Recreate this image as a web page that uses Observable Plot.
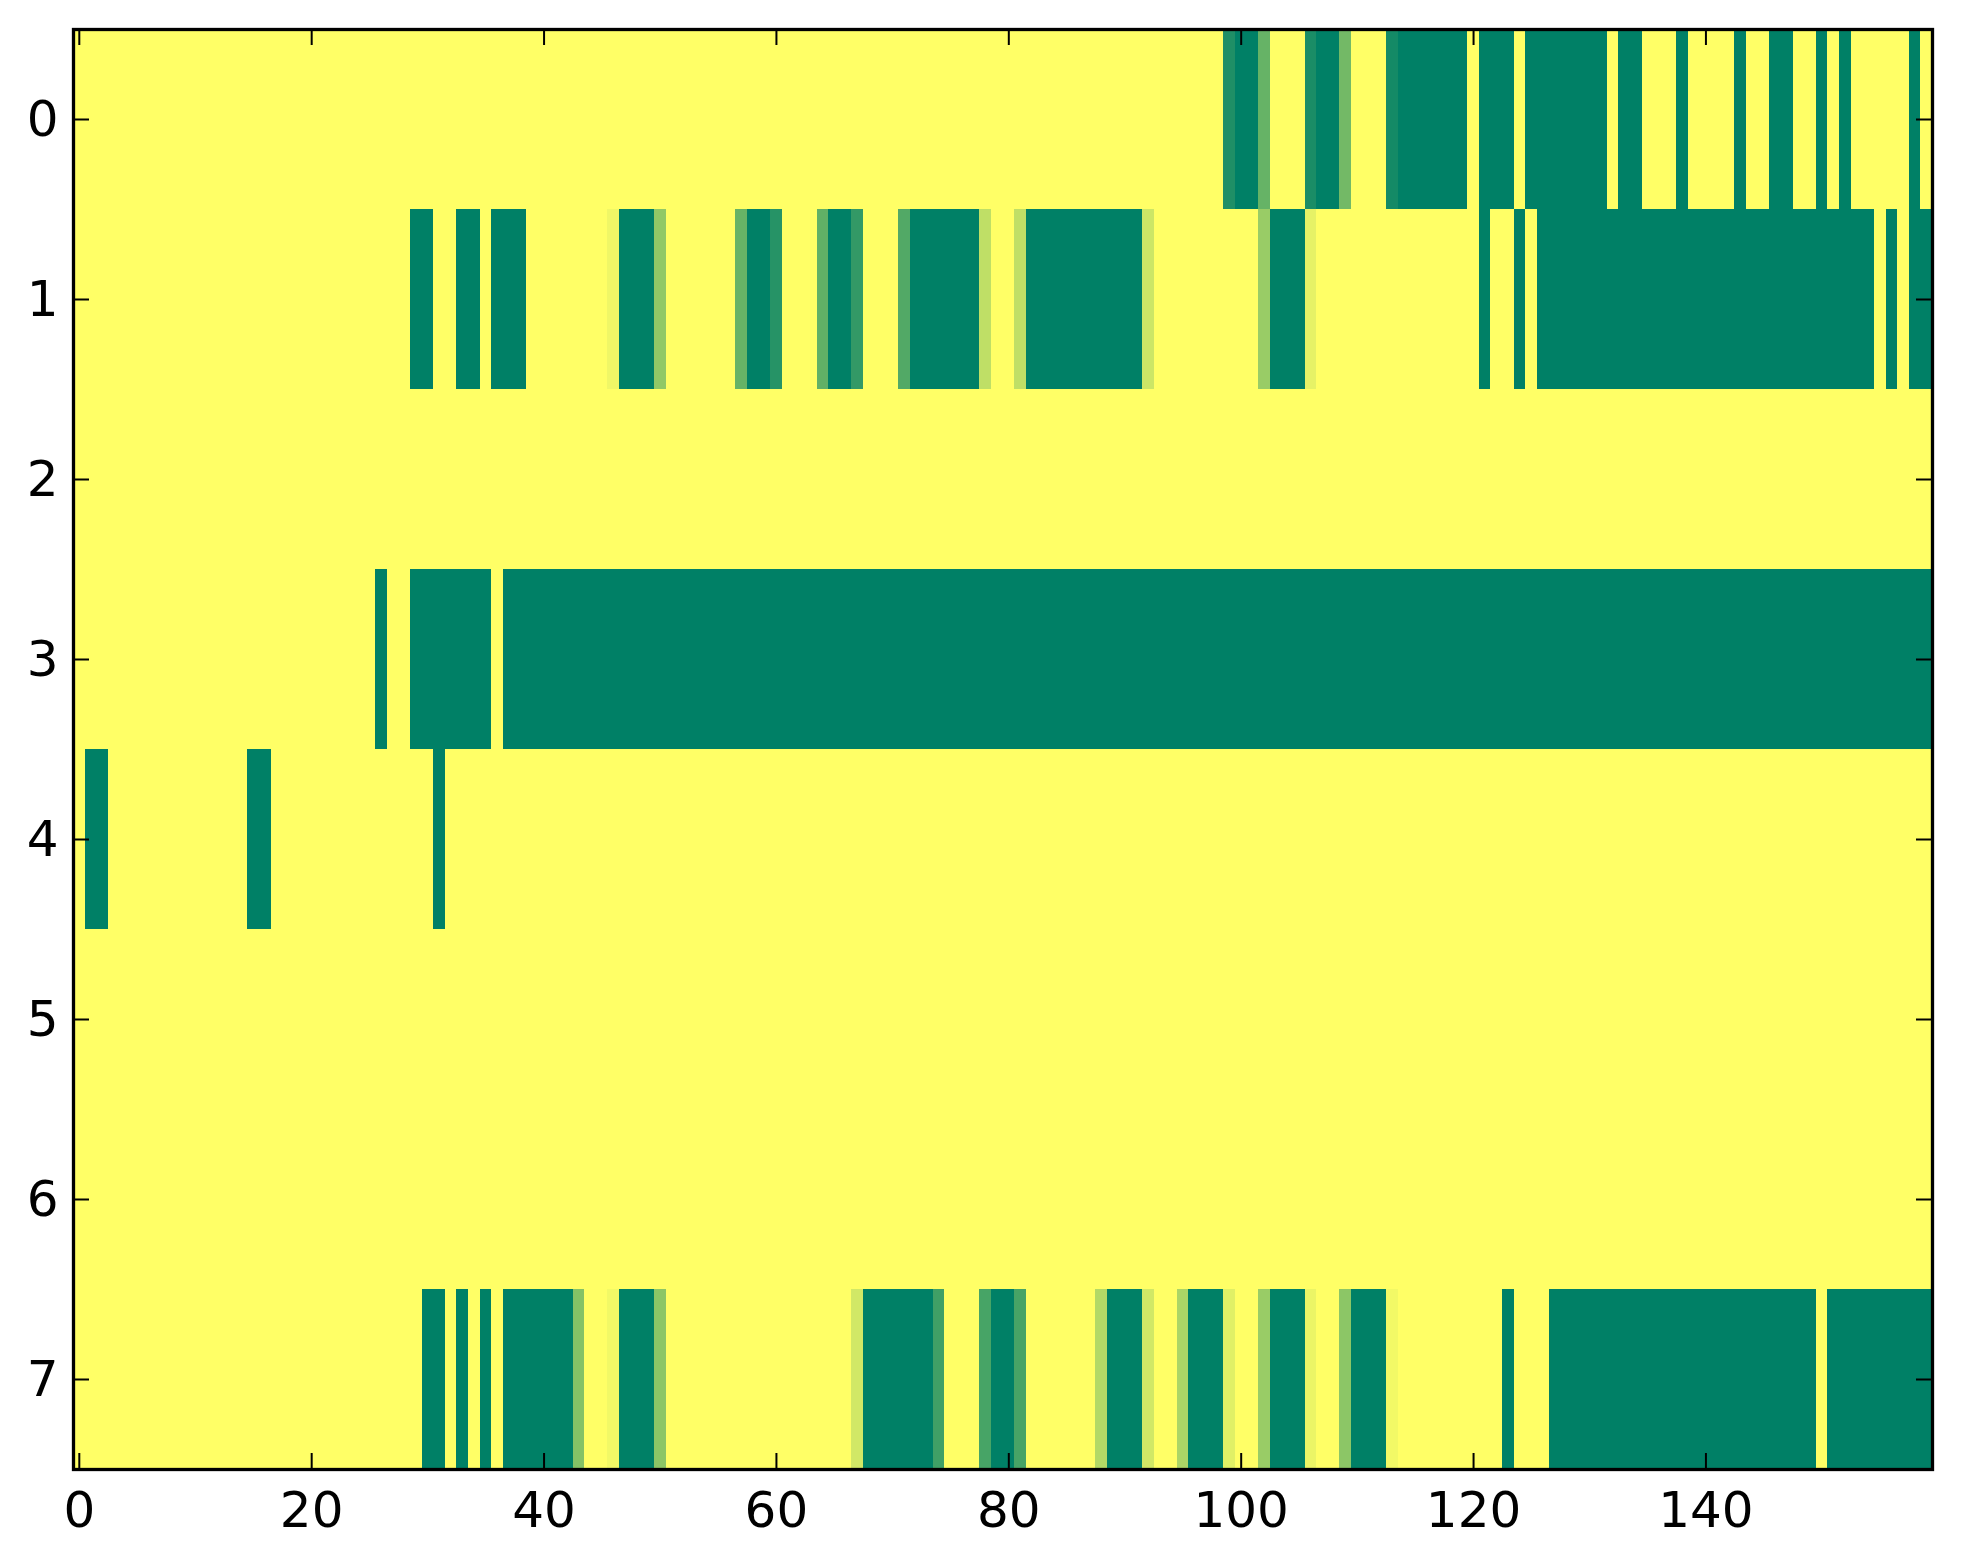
<!DOCTYPE html>
<html>
<head>
<meta charset="utf-8">
<script src="https://cdn.jsdelivr.net/npm/d3@7"></script>
<script src="https://cdn.jsdelivr.net/npm/@observablehq/plot@0.6"></script>
<style>
  html, body { margin: 0; padding: 0; background: #ffffff; }
</style>
</head>
<body>
<div id="chart"></div>
<script>
// Heatmap values, one array per row (160 columns each), colormap summer_r (0 = yellow, 1 = green)
const row0 = [
  0,0,0,0,0,0,0,0,0,0,0,0,0,0,0,0,0,0,0,0,
  0,0,0,0,0,0,0,0,0,0,0,0,0,0,0,0,0,0,0,0,
  0,0,0,0,0,0,0,0,0,0,0,0,0,0,0,0,0,0,0,0,
  0,0,0,0,0,0,0,0,0,0,0,0,0,0,0,0,0,0,0,0,
  0,0,0,0,0,0,0,0,0,0,0,0,0,0,0,0,0,0,0,0.88,
  1,1,0.6,0,0,0,0.9,1,1,0.55,0,0,0,0.92,1,1,1,1,1,1,
  0,1,1,1,0,1,1,1,1,1,1,1,0,1,1,0,0,0,1,0,
  0,0,0,1,0,0,1,1,0,0,1,0,1,0,0,0,0,0,1,0
];
const row1 = [
  0,0,0,0,0,0,0,0,0,0,0,0,0,0,0,0,0,0,0,0,
  0,0,0,0,0,0,0,0,0,1,1,0,0,1,1,0,1,1,1,0,
  0,0,0,0,0,0,0.06,1,1,1,0.43,0,0,0,0,0,0,0.6,1,1,
  0.85,0,0,0,0.62,1,1,0.8,0,0,0,0.68,1,1,1,1,1,1,0.25,0,
  0,0.25,1,1,1,1,1,1,1,1,1,1,0.2,0,0,0,0,0,0,0,
  0,0,0.4,1,1,1,0.1,0,0,0,0,0,0,0,0,0,0,0,0,0,
  0,1,0,0,1,0,1,1,1,1,1,1,1,1,1,1,1,1,1,1,
  1,1,1,1,1,1,1,1,1,1,1,1,1,1,1,0,1,0,1,1
];
const row2 = [
  0,0,0,0,0,0,0,0,0,0,0,0,0,0,0,0,0,0,0,0,
  0,0,0,0,0,0,0,0,0,0,0,0,0,0,0,0,0,0,0,0,
  0,0,0,0,0,0,0,0,0,0,0,0,0,0,0,0,0,0,0,0,
  0,0,0,0,0,0,0,0,0,0,0,0,0,0,0,0,0,0,0,0,
  0,0,0,0,0,0,0,0,0,0,0,0,0,0,0,0,0,0,0,0,
  0,0,0,0,0,0,0,0,0,0,0,0,0,0,0,0,0,0,0,0,
  0,0,0,0,0,0,0,0,0,0,0,0,0,0,0,0,0,0,0,0,
  0,0,0,0,0,0,0,0,0,0,0,0,0,0,0,0,0,0,0,0
];
const row3 = [
  0,0,0,0,0,0,0,0,0,0,0,0,0,0,0,0,0,0,0,0,
  0,0,0,0,0,0,1,0,0,1,1,1,1,1,1,1,0,1,1,1,
  1,1,1,1,1,1,1,1,1,1,1,1,1,1,1,1,1,1,1,1,
  1,1,1,1,1,1,1,1,1,1,1,1,1,1,1,1,1,1,1,1,
  1,1,1,1,1,1,1,1,1,1,1,1,1,1,1,1,1,1,1,1,
  1,1,1,1,1,1,1,1,1,1,1,1,1,1,1,1,1,1,1,1,
  1,1,1,1,1,1,1,1,1,1,1,1,1,1,1,1,1,1,1,1,
  1,1,1,1,1,1,1,1,1,1,1,1,1,1,1,1,1,1,1,1
];
const row4 = [
  0,1,1,0,0,0,0,0,0,0,0,0,0,0,0,1,1,0,0,0,
  0,0,0,0,0,0,0,0,0,0,0,1,0,0,0,0,0,0,0,0,
  0,0,0,0,0,0,0,0,0,0,0,0,0,0,0,0,0,0,0,0,
  0,0,0,0,0,0,0,0,0,0,0,0,0,0,0,0,0,0,0,0,
  0,0,0,0,0,0,0,0,0,0,0,0,0,0,0,0,0,0,0,0,
  0,0,0,0,0,0,0,0,0,0,0,0,0,0,0,0,0,0,0,0,
  0,0,0,0,0,0,0,0,0,0,0,0,0,0,0,0,0,0,0,0,
  0,0,0,0,0,0,0,0,0,0,0,0,0,0,0,0,0,0,0,0
];
const row5 = [
  0,0,0,0,0,0,0,0,0,0,0,0,0,0,0,0,0,0,0,0,
  0,0,0,0,0,0,0,0,0,0,0,0,0,0,0,0,0,0,0,0,
  0,0,0,0,0,0,0,0,0,0,0,0,0,0,0,0,0,0,0,0,
  0,0,0,0,0,0,0,0,0,0,0,0,0,0,0,0,0,0,0,0,
  0,0,0,0,0,0,0,0,0,0,0,0,0,0,0,0,0,0,0,0,
  0,0,0,0,0,0,0,0,0,0,0,0,0,0,0,0,0,0,0,0,
  0,0,0,0,0,0,0,0,0,0,0,0,0,0,0,0,0,0,0,0,
  0,0,0,0,0,0,0,0,0,0,0,0,0,0,0,0,0,0,0,0
];
const row6 = [
  0,0,0,0,0,0,0,0,0,0,0,0,0,0,0,0,0,0,0,0,
  0,0,0,0,0,0,0,0,0,0,0,0,0,0,0,0,0,0,0,0,
  0,0,0,0,0,0,0,0,0,0,0,0,0,0,0,0,0,0,0,0,
  0,0,0,0,0,0,0,0,0,0,0,0,0,0,0,0,0,0,0,0,
  0,0,0,0,0,0,0,0,0,0,0,0,0,0,0,0,0,0,0,0,
  0,0,0,0,0,0,0,0,0,0,0,0,0,0,0,0,0,0,0,0,
  0,0,0,0,0,0,0,0,0,0,0,0,0,0,0,0,0,0,0,0,
  0,0,0,0,0,0,0,0,0,0,0,0,0,0,0,0,0,0,0,0
];
const row7 = [
  0,0,0,0,0,0,0,0,0,0,0,0,0,0,0,0,0,0,0,0,
  0,0,0,0,0,0,0,0,0,0,1,1,0,1,0,1,0,1,1,1,
  1,1,1,0.48,0,0,0.05,1,1,1,0.45,0,0,0,0,0,0,0,0,0,
  0,0,0,0,0,0,0,0.18,1,1,1,1,1,1,0.75,0,0,0,0.72,1,
  1,0.72,0,0,0,0,0,0,0.3,1,1,1,0.18,0,0,0.33,1,1,1,0.12,
  0,0,0.4,1,1,1,0.08,0,0,0.45,1,1,1,0.05,0,0,0,0,0,0,
  0,0,0,1,0,0,0,1,1,1,1,1,1,1,1,1,1,1,1,1,
  1,1,1,1,1,1,1,1,1,1,0,1,1,1,1,1,1,1,1,1
];
const rows = [row0, row1, row2, row3, row4, row5, row6, row7];
const xTicks = [0, 20, 40, 60, 80, 100, 120, 140];
const yTicks = [0, 1, 2, 3, 4, 5, 6, 7];

// layout
const W = 1963, H = 1564;
const mL = 73, mR = 31, mT = 29, mB = 95;
const frameW = W - mL - mR, frameH = H - mT - mB;
const tickLen = 16;

const cells = rows.flatMap((vals, r) => vals.map((v, c) => ({r, c, v})));

const chart = Plot.plot({
  width: W,
  height: H,
  marginLeft: mL,
  marginRight: mR,
  marginTop: mT,
  marginBottom: mB,
  style: {fontFamily: "DejaVu Sans", fontSize: "50px", background: "#ffffff", color: "#000"},
  x: {domain: [-0.5, rows[0].length - 0.5], ticks: xTicks},
  y: {domain: [rows.length - 0.5, -0.5], ticks: yTicks},
  color: {type: "linear", domain: [0, 1], range: ["#ffff66", "#008066"], interpolate: "rgb"},
  marks: [
    Plot.rect(cells, {
      x1: d => d.c - 0.5, x2: d => d.c + 0.5,
      y1: d => d.r - 0.5, y2: d => d.r + 0.5,
      fill: "v", shapeRendering: "crispEdges"
    }),
    Plot.tickX(xTicks, {x: d => d, insetTop: frameH - tickLen, stroke: "#000", strokeWidth: 2}),
    Plot.tickX(xTicks, {x: d => d, insetBottom: frameH - tickLen, stroke: "#000", strokeWidth: 2}),
    Plot.tickY(yTicks, {y: d => d, insetRight: frameW - tickLen, stroke: "#000", strokeWidth: 2}),
    Plot.tickY(yTicks, {y: d => d, insetLeft: frameW - tickLen, stroke: "#000", strokeWidth: 2}),
    Plot.axisX({ticks: xTicks, tickSize: 0, tickPadding: 22, label: null, fontSize: 50}),
    Plot.axisY({ticks: yTicks, tickSize: 0, tickPadding: 15, label: null, fontSize: 50}),
    Plot.frame({stroke: "#000", strokeWidth: 3.3})
  ]
});
document.getElementById("chart").appendChild(chart);
</script>
</body>
</html>
